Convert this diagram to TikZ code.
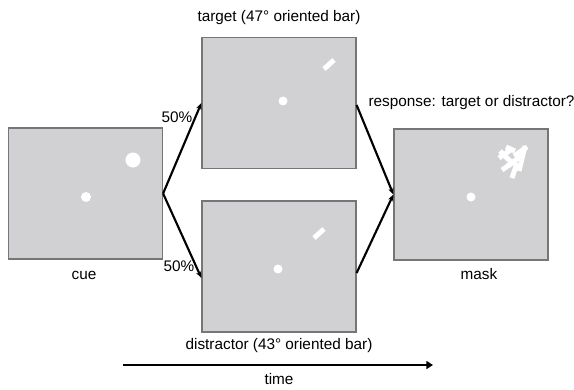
\documentclass[tikz,border=0pt]{standalone}
\usepackage{fontspec}
\setmainfont{Liberation Sans}
\usetikzlibrary{arrows.meta,calc}
\definecolor{screengray}{RGB}{209,209,211}
\definecolor{framegray}{RGB}{118,118,120}
\tikzset{every picture/.style={line width=0.75pt}}
\tikzset{
  screen/.style={draw=framegray,fill=screengray,line width=0.9pt,minimum width=115.5pt,minimum height=98.25pt,inner sep=0pt},
  lbl/.style={font=\fontsize{11.5}{13}\selectfont,inner sep=0pt},
  link/.style={line width=1.6pt,-{Stealth[length=5pt,width=4pt]}},
  timeline/.style={line width=2pt,-{Triangle[length=5pt,width=6pt]}},
  bar/.style={white,line width=3.75pt},
}

\begin{document}
\begin{tikzpicture}[x=0.75pt,y=0.75pt,yscale=-1,xscale=1]
\useasboundingbox (0,0) rectangle (574,389);

% Screens
\node[screen] (cue) at (85.5,193.5) {};
\node[screen] (target) at (279,103) {};
\node[screen] (distractor) at (279,266.5) {};
\node[screen] (mask) at (471,194.5) {};

% Cue: fixation and cue disc
\fill[white] (86,197) circle (5);
\fill[white] (133,160) circle (7.5);
% Target: fixation and bar
\fill[white] (283,101) circle (4.5);
\draw[bar] (324,69) -- (334,60);
% Distractor: fixation and bar
\fill[white] (278,269) circle (4.5);
\draw[bar] (314,238) -- (324,229);
% Mask: fixation and scrambled bars
\fill[white] (471,197) circle (4.5);
\draw[bar] (499,158) -- (512,149);
\draw[bar] (502,170) -- (516,160);
\draw[bar] (508,166) -- (521,156);
\draw[bar] (525,146) -- (519,171);
\draw[bar] (512,178) -- (517,163);
\draw[bar] (500,151) -- (511,162);
\draw[bar] (514,156) -- (527,147);
\draw[bar] (506,147) -- (515,151);

% Connection
\draw[link] (cue.east) -- (target.west);
\draw[link] (cue.east) -- ($(distractor.west)+(0,11.5)$);
\draw[link] ($(target.east)+(0,2)$) -- (mask.west);
\draw[link] ($(distractor.east)+(0,6.5)$) -- (mask.west);

% Time axis
\coordinate (tstart) at (123,365);
\coordinate (tend) at (433,365);
\draw[timeline] (tstart) -- (tend);

% Text Node
\node[lbl] (targetlbl) at (279,18) {target (47° oriented bar)};
\node[lbl] (resplbl) at (471.5,103) {response: target or distractor?};
\node[lbl] (cuelbl) at (84,275) {cue};
\node[lbl] (distlbl) at (279,346) {distractor (43° oriented bar)};
\node[lbl] (masklbl) at (479,274) {mask};
\node[lbl] (timelbl) at (279,379) {time};
\node[lbl] (upperpct) at (177,117) {50\%};
\node[lbl] (lowerpct) at (179,266) {50\%};

\end{tikzpicture}
\end{document}
